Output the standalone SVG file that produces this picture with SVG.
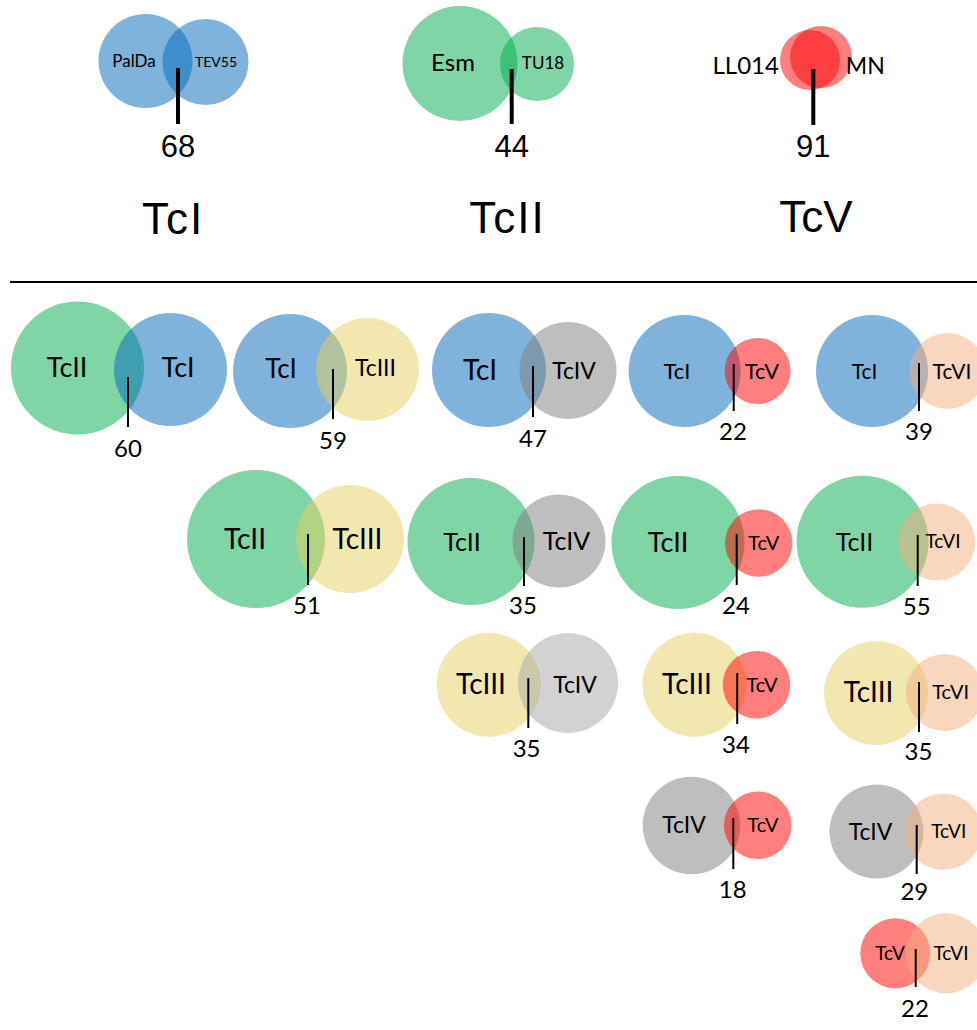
<svg xmlns="http://www.w3.org/2000/svg" width="977" height="1030" viewBox="0 0 977 1030">
<style>
.b{fill:#0067b9;fill-opacity:.5}
.g{fill:#00ac4c;fill-opacity:.5}
.y{fill:#e5d15f;fill-opacity:.5}
.k{fill:#7d7d7d;fill-opacity:.5}
.lk{fill:#a5a5a5;fill-opacity:.5}
.r{fill:#ff0000;fill-opacity:.5}
.p{fill:#f1af7d;fill-opacity:.5}
text{font-family:Lato,"Open Sans",sans-serif;fill:#000;text-anchor:middle}
.t{font-family:"Liberation Sans",Arial,sans-serif}
.h{font-family:"Liberation Sans",Arial,sans-serif;font-size:44px}
.n{font-size:24px}
.thick{stroke:#000;stroke-width:4}
.thin{stroke:#000;stroke-width:2}
</style>
<rect width="977" height="1030" fill="#fff"/>

<g id="top-tcI">
<circle class="b" cx="145.5" cy="61" r="47"/>
<circle class="b" cx="205.5" cy="62" r="43"/>
<text x="134" y="67" font-size="17">PalDa</text>
<text x="216" y="67" font-size="14">TEV55</text>
<text class="t" x="178" y="157" font-size="31">68</text>
<text class="h" x="173" y="234" letter-spacing="2">TcI</text>
</g>
<g id="top-tcII">
<circle class="g" cx="460" cy="63.5" r="57.5"/>
<circle class="g" cx="537" cy="64" r="37"/>
<text x="453" y="71" font-size="24">Esm</text>
<text x="543" y="69" font-size="17">TU18</text>
<text class="t" x="511.7" y="157" font-size="31">44</text>
<text class="h" x="507.5" y="233.3" letter-spacing="2">TcII</text>
</g>
<g id="top-tcV">
<circle class="r" cx="810" cy="60" r="30"/>
<circle class="r" cx="821" cy="57" r="31"/>
<text x="745.7" y="74" font-size="24">LL014</text>
<text x="865.3" y="74" font-size="23">MN</text>
<text class="t" x="813.3" y="157" font-size="31">91</text>
<text class="h" x="816" y="231.7">TcV</text>
</g>

<g id="v-II-I">
<circle class="g" cx="77.5" cy="368" r="66.5"/>
<circle class="b" cx="170.5" cy="369.5" r="56.5"/>
<text x="67" y="377" font-size="27">TcII</text>
<text x="178" y="377" font-size="27">TcI</text>
<text class="n" x="128" y="457">60</text>
</g>
<g id="v-I-III">
<circle class="b" cx="290" cy="371" r="57"/>
<circle class="y" cx="367.5" cy="369.5" r="51.5"/>
<text x="281" y="378" font-size="26">TcI</text>
<text x="375.5" y="376" font-size="23">TcIII</text>
<text class="n" x="333" y="449">59</text>
</g>
<g id="v-I-IV">
<circle class="b" cx="489" cy="370" r="57"/>
<circle class="k" cx="568" cy="370.5" r="48.5"/>
<text x="480" y="380" font-size="28">TcI</text>
<text x="574" y="379" font-size="23">TcIV</text>
<text class="n" x="533" y="447">47</text>
</g>
<g id="v-I-V">
<circle class="b" cx="684.6" cy="371" r="56"/>
<circle class="r" cx="757.6" cy="371" r="33"/>
<text x="677" y="379" font-size="22">TcI</text>
<text x="762" y="379" font-size="22">TcV</text>
<text class="n" x="733" y="440">22</text>
</g>
<g id="v-I-VI">
<circle class="b" cx="872" cy="371" r="56"/>
<circle class="p" cx="947.5" cy="371" r="38"/>
<text x="864.6" y="379" font-size="21">TcI</text>
<text x="952" y="379" font-size="21">TcVI</text>
<text class="n" x="919" y="440">39</text>
</g>

<g id="v-II-III">
<circle class="g" cx="256" cy="539" r="69"/>
<circle class="y" cx="350" cy="539" r="54"/>
<text x="245" y="549" font-size="28">TcII</text>
<text x="357.5" y="549" font-size="28">TcIII</text>
<text class="n" x="307" y="614">51</text>
</g>
<g id="v-II-IV">
<circle class="g" cx="471" cy="541.5" r="63.5"/>
<circle class="k" cx="559" cy="541" r="46.5"/>
<text x="462" y="550.7" font-size="25">TcII</text>
<text x="566.5" y="550" font-size="25">TcIV</text>
<text class="n" x="523" y="614">35</text>
</g>
<g id="v-II-V">
<circle class="g" cx="678" cy="542.5" r="66.5"/>
<circle class="r" cx="758.7" cy="543" r="33.7"/>
<text x="668" y="551.7" font-size="27">TcII</text>
<text x="763.7" y="550" font-size="20">TcV</text>
<text class="n" x="736" y="614">24</text>
</g>
<g id="v-II-VI">
<circle class="g" cx="862.5" cy="541.7" r="66"/>
<circle class="p" cx="936.7" cy="542" r="38.5"/>
<text x="854.5" y="550.7" font-size="25">TcII</text>
<text x="943" y="548.3" font-size="19">TcVI</text>
<text class="n" x="916.7" y="615">55</text>
</g>

<g id="v-III-IV">
<circle class="y" cx="488.7" cy="684.7" r="52"/>
<circle class="lk" cx="568" cy="683" r="50"/>
<text x="481" y="694" font-size="28">TcIII</text>
<text x="575" y="693.3" font-size="23">TcIV</text>
<text class="n" x="526.6" y="756.7">35</text>
</g>
<g id="v-III-V">
<circle class="y" cx="694.5" cy="684.7" r="52"/>
<circle class="r" cx="756.5" cy="684.7" r="33.8"/>
<text x="687" y="694" font-size="28">TcIII</text>
<text x="762" y="691.7" font-size="20">TcV</text>
<text class="n" x="736" y="753.3">34</text>
</g>
<g id="v-III-VI">
<circle class="y" cx="876" cy="693" r="52"/>
<circle class="p" cx="944.5" cy="692.5" r="38.5"/>
<text x="868.5" y="701.7" font-size="28">TcIII</text>
<text x="950.7" y="699.3" font-size="20">TcVI</text>
<text class="n" x="918.4" y="760">35</text>
</g>

<g id="v-IV-V">
<circle class="k" cx="691.5" cy="825.5" r="48.8"/>
<circle class="r" cx="757.8" cy="825.3" r="33.8"/>
<text x="684" y="832.7" font-size="23">TcIV</text>
<text x="763" y="831.7" font-size="20">TcV</text>
<text class="n" x="732.7" y="898.3">18</text>
</g>
<g id="v-IV-VI">
<circle class="k" cx="876.5" cy="831.5" r="47"/>
<circle class="p" cx="943.3" cy="831.7" r="38.3"/>
<text x="870.5" y="840" font-size="23">TcIV</text>
<text x="948.7" y="838.3" font-size="19">TcVI</text>
<text class="n" x="914.3" y="900">29</text>
</g>
<g id="v-V-VI">
<circle class="r" cx="895.3" cy="953.3" r="35"/>
<circle class="p" cx="946" cy="953.3" r="40"/>
<text x="890" y="960" font-size="19">TcV</text>
<text x="951" y="960" font-size="19">TcVI</text>
<text class="n" x="915" y="1016.7">22</text>
</g>

<g id="connectors">
<line class="thick" x1="178" y1="68" x2="178" y2="124"/>
<line class="thick" x1="511.7" y1="69" x2="511.7" y2="124"/>
<line class="thick" x1="813.3" y1="69" x2="813.3" y2="125"/>
<line x1="10" y1="282" x2="977" y2="282" stroke="#000" stroke-width="2"/>
<line class="thin" x1="128" y1="377" x2="128" y2="427"/>
<line class="thin" x1="333" y1="369" x2="333" y2="419"/>
<line class="thin" x1="533" y1="366" x2="533" y2="417"/>
<line class="thin" x1="733.7" y1="364" x2="733.7" y2="411"/>
<line class="thin" x1="919" y1="363" x2="919" y2="411"/>
<line class="thin" x1="308" y1="534" x2="308" y2="585"/>
<line class="thin" x1="524" y1="537" x2="524" y2="586"/>
<line class="thin" x1="736.7" y1="534" x2="736.7" y2="585"/>
<line class="thin" x1="917.7" y1="535" x2="917.7" y2="586"/>
<line class="thin" x1="528.3" y1="678" x2="528.3" y2="728"/>
<line class="thin" x1="737.2" y1="673" x2="737.2" y2="724"/>
<line class="thin" x1="919" y1="682" x2="919" y2="732"/>
<line class="thin" x1="733.3" y1="818" x2="733.3" y2="869"/>
<line class="thin" x1="916.7" y1="825" x2="916.7" y2="874"/>
<line class="thin" x1="915.7" y1="949" x2="915.7" y2="987"/>
</g>
</svg>
